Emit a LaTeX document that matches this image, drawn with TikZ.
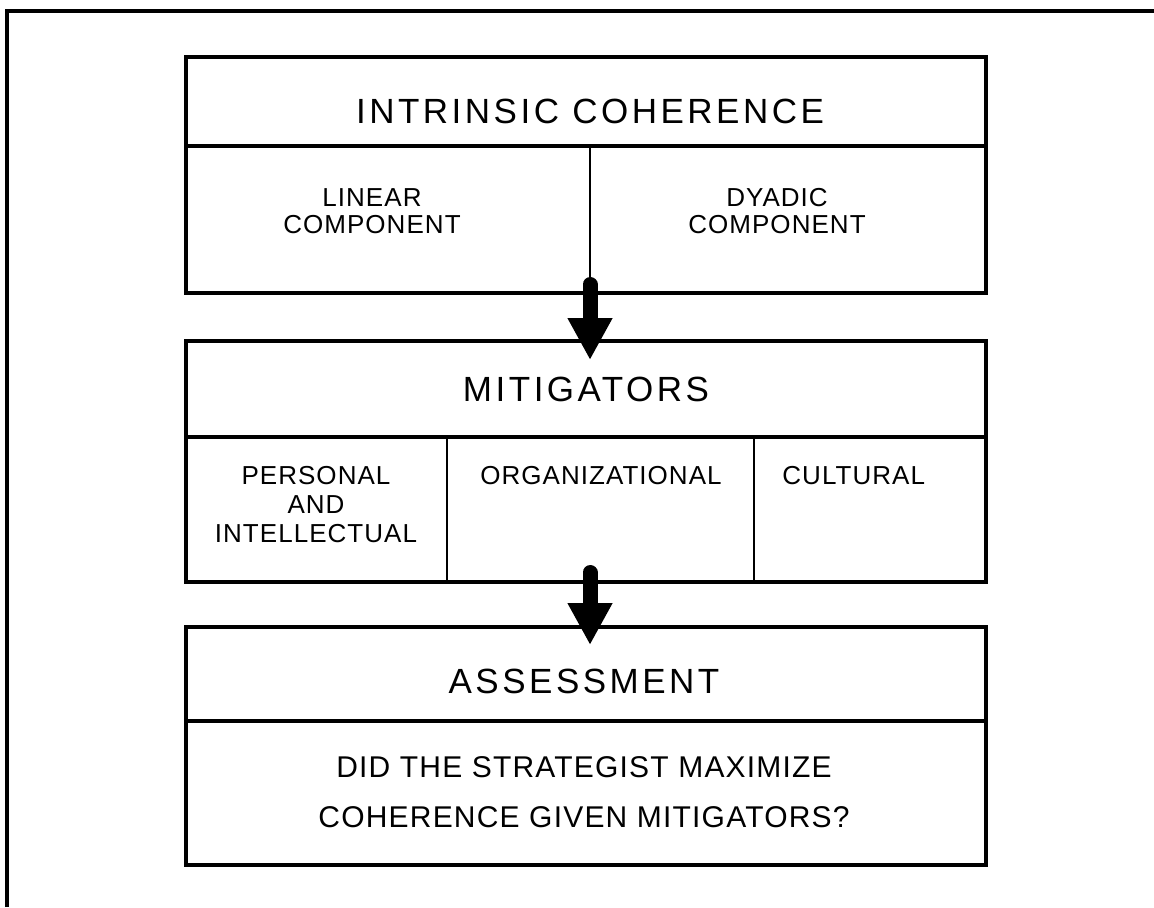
\documentclass[tikz,border=0pt]{standalone}
\usepackage{fontspec}
\setmainfont{Liberation Sans}
\newfontfamily\headfont[LetterSpace=10]{Liberation Sans}
\newfontfamily\cellfont[LetterSpace=4]{Liberation Sans}
\usetikzlibrary{arrows.meta}
\usetikzlibrary{positioning}
\tikzset{
	every node/.append style={align=center, inner sep=0pt},
	frame/.style={draw, line width=1.6pt},
	rule/.style={draw, line width=0.7pt},
	head/.style={anchor=base, font=\headfont\fontsize{17.5}{21}\selectfont},
	cell/.style={anchor=base, font=\cellfont\fontsize{13}{13.2}\selectfont},
	ask/.style={anchor=base, font=\cellfont\fontsize{15}{25}\selectfont},
	flow/.style={line width=7.5pt, line cap=round,
		-{Triangle[length=21pt, width=21pt]}}
}
\begin{document}
\begin{tikzpicture}[x=0.5pt, y=-0.5pt]
	\useasboundingbox (0,0) rectangle (1154,907);

	% outer frame (cut off right and bottom)
	\draw [frame] (7,907) -- (7,11) -- (1154,11);

	% coherence box
	\draw [frame] (186,57) rectangle (986,293);
	\draw [frame] (186,146) -- (986,146);
	\draw [rule] (590,146) -- (590,293);
	\node [head] (coherence) at (590,123) {INTRINSIC COHERENCE};
	\node [cell] (linear) at (372,233) {LINEAR\\COMPONENT};
	\node [cell] (dyadic) at (777,233) {DYADIC\\COMPONENT};

	% mitigators box
	\draw [frame] (186,341) rectangle (986,582);
	\draw [frame] (186,437) -- (986,437);
	\draw [rule] (447,437) -- (447,582);
	\draw [rule] (754,437) -- (754,582);
	\node [head] (mitigators) at (586,401) {MITIGATORS};
	\node [cell, font=\cellfont\fontsize{13}{14.5}\selectfont] (personal) at (316,542) {PERSONAL\\AND\\INTELLECTUAL};
	\node [cell] (organizational) at (601,484) {ORGANIZATIONAL};
	\node [cell, anchor=base west] (cultural) at (782,484) {CULTURAL};

	% assessment box
	\draw [frame] (186,627) rectangle (986,865);
	\draw [frame] (186,721) -- (986,721);
	\node [head] (assessment) at (584,693) {ASSESSMENT};
	\node [ask] (question) at (584,827) {DID THE STRATEGIST MAXIMIZE\\COHERENCE GIVEN MITIGATORS?};

	% arrows
	\coordinate (from1) at (590,284.5);
	\coordinate (to1) at (590,360);
	\coordinate (from2) at (590,572.5);
	\coordinate (to2) at (590,645);
	\draw [flow] (from1) -- (to1);
	\draw [flow] (from2) -- (to2);

\end{tikzpicture}
\end{document}
